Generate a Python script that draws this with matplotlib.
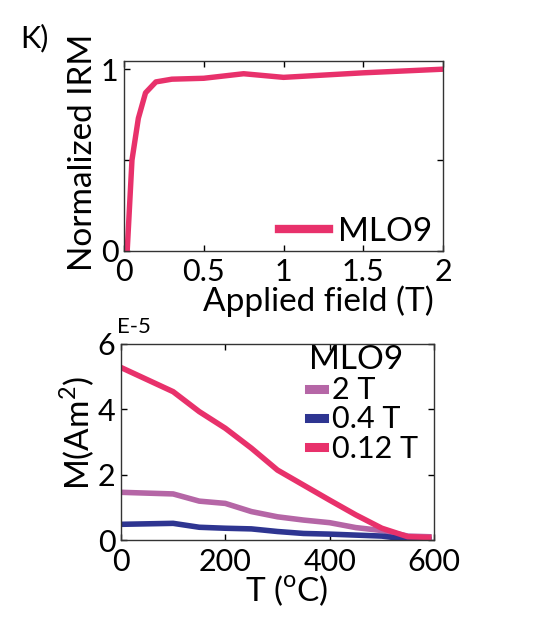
import matplotlib
matplotlib.use("Agg")
import matplotlib.pyplot as plt

plt.rcParams["font.family"] = ["Lato", "DejaVu Sans"]

# IRM acquisition curve
field_t = [0.0, 0.02, 0.05, 0.09, 0.135, 0.2, 0.3, 0.5, 0.75, 1.0, 1.5, 2.0]
irm_norm = [0.0, 0.0, 0.5, 0.73, 0.87, 0.93, 0.945, 0.95, 0.975, 0.955, 0.98, 1.0]

# Thermal demagnetisation of three-axis IRM (units of 1e-5 Am^2)
temp_c = [0, 100, 150, 200, 250, 300, 350, 400, 450, 500, 550, 590]
m_2t = [1.46, 1.41, 1.19, 1.12, 0.87, 0.71, 0.61, 0.53, 0.38, 0.29, 0.12, 0.10]
m_04t = [0.48, 0.51, 0.39, 0.36, 0.34, 0.26, 0.20, 0.18, 0.15, 0.12, 0.02, 0.02]
m_012t = [5.28, 4.54, 3.93, 3.42, 2.81, 2.14, 1.68, 1.22, 0.77, 0.36, 0.10, 0.08]

series_labels = ["2 T", "0.4 T", "0.12 T"]
series_colors = ["#b566a6", "#2e3591", "#e8316b"]

W, H = 539, 619
fig = plt.figure(figsize=(W / 100, H / 100), dpi=100)


def style_axes(ax):
    ax.tick_params(direction="in", length=4, width=1, top=True, right=True,
                   labelsize=22, colors="black")
    ax.tick_params(axis="x", pad=5)
    ax.tick_params(axis="y", pad=4)
    for spine in ax.spines.values():
        spine.set_color("#333333")
        spine.set_linewidth(1)


# top panel
ax1 = fig.add_axes([124 / W, 1 - 251 / H, 319 / W, 190 / H])
ax1.plot(field_t, irm_norm, color=series_colors[2], linewidth=3.9,
         solid_joinstyle="round", label="MLO9")
ax1.set_xlim(0, 2)
ax1.set_ylim(0, 1.045)
ax1.set_xticks([0, 0.5, 1, 1.5, 2])
ax1.set_xticklabels(["0", "0.5", "1", "1.5", "2"])
ax1.set_yticks([0, 0.5, 1])
ax1.set_yticklabels(["0", "", "1"])
style_axes(ax1)
ax1.set_xlabel("Applied field (T)", fontsize=24, va="center")
ax1.xaxis.set_label_coords(0.61, -0.265)
ax1.set_ylabel("Normalized IRM", fontsize=24, va="center")
ax1.yaxis.set_label_coords(-0.128, 0.518)
leg1 = ax1.legend(loc="lower right", frameon=False, fontsize=24,
                  handlelength=1.5, handletextpad=0.25, borderpad=0,
                  borderaxespad=0, bbox_to_anchor=((432 - 124) / 319, 4 / 190))
for line in leg1.get_lines():
    line.set_linewidth(6)
fig.text(20 / W, 1 - 38 / H, "K)", fontsize=22, va="center", ha="left")

# bottom panel
ax2 = fig.add_axes([121 / W, 1 - 540 / H, 313 / W, 196 / H])
for vals, lab, col in zip([m_2t, m_04t, m_012t], series_labels, series_colors):
    ax2.plot(temp_c, vals, color=col, linewidth=4.0, solid_joinstyle="round",
             label=lab)
ax2.set_xlim(0, 600)
ax2.set_ylim(0, 6)
ax2.set_xticks([0, 200, 400, 600])
ax2.set_yticks([0, 2, 4, 6])
style_axes(ax2)
ax2.tick_params(axis="x", pad=6)
ax2.set_xlabel("T ($^{\\mathregular{o}}$C)", fontsize=24, va="center")
ax2.xaxis.set_label_coords(0.53, -0.26)
ax2.set_ylabel("M(Am$^{\\mathregular{2}}$)", fontsize=24, va="center")
ax2.yaxis.set_label_coords(-0.138, 0.546)
leg2 = ax2.legend(loc="upper left", frameon=False, fontsize=22, title="MLO9",
                  title_fontsize=24, handlelength=0.5, handletextpad=0.25,
                  labelspacing=0.04, borderpad=0, borderaxespad=0,
                  bbox_to_anchor=((309 - 121) / 313, 0.995))
leg2._legend_box.align = "left"
for line in leg2.get_lines():
    line.set_linewidth(6.5)
fig.text(117 / W, 1 - 327 / H, "E-5", fontsize=16, va="center", ha="left")

fig.savefig("out.png", dpi=100)
